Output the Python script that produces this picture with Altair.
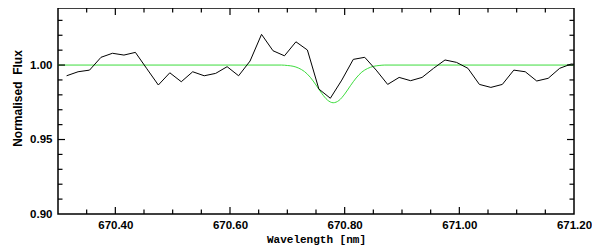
import altair as alt
import pandas as pd

wavelength = [670.315, 670.335, 670.355, 670.375, 670.395, 670.415, 670.435, 670.455,
              670.475, 670.495, 670.515, 670.535, 670.555, 670.575, 670.595, 670.615,
              670.635, 670.655, 670.675, 670.695, 670.715, 670.735, 670.755, 670.775,
              670.795, 670.815, 670.835, 670.855, 670.875, 670.895, 670.915, 670.935,
              670.955, 670.975, 670.995, 671.015, 671.035, 671.055, 671.075, 671.095,
              671.115, 671.135, 671.155, 671.175, 671.195, 671.215]
flux = [0.9928, 0.9955, 0.9966, 1.0052, 1.0079, 1.0067, 1.0085, 0.9975,
        0.9866, 0.9948, 0.9888, 0.9955, 0.9928, 0.9944, 0.9989, 0.9928,
        1.0027, 1.0206, 1.0096, 1.0062, 1.0156, 1.0101, 0.9839, 0.9777,
        0.9899, 1.0038, 1.0052, 0.9966, 0.9870, 0.9917, 0.9895, 0.9917,
        0.9978, 1.0034, 1.0018, 0.9978, 0.9870, 0.9850, 0.9870, 0.9966,
        0.9955, 0.9893, 0.9911, 0.9978, 1.0007, 1.0000]

# Fitted line profile
fit_wavelength = [670.30, 670.69, 670.70, 670.71, 670.72, 670.73, 670.74, 670.75, 670.76,
                  670.77, 670.78, 670.79, 670.80, 670.81, 670.82, 670.83, 670.84,
                  670.85, 670.86, 670.87, 671.20]
fit_flux = [1.0000, 1.0000, 0.9997, 0.9992, 0.9979, 0.9956, 0.9918, 0.9866, 0.9810,
            0.9765, 0.9747, 0.9762, 0.9805, 0.9861, 0.9913, 0.9953, 0.9977,
            0.9991, 0.9997, 1.0000, 1.0000]

x_label_values = [670.40, 670.60, 670.80, 671.00, 671.20]
y_label_values = [0.90, 0.95, 1.00]
x_major_ticks = [670.40, 670.60, 670.80, 671.00]
x_minor_ticks = [670.35, 670.45, 670.50, 670.55, 670.65, 670.70, 670.75,
                 670.85, 670.90, 670.95, 671.05, 671.10, 671.15]
y_major_ticks = [0.95, 1.00]
y_minor_ticks = [0.91, 0.92, 0.93, 0.94, 0.96, 0.97, 0.98, 0.99, 1.01, 1.02, 1.03]

W, H = 516, 206
MAJ, MIN = 7, 4.5

xs = alt.Scale(domain=[670.30, 671.20], nice=False, zero=False)
ys = alt.Scale(domain=[0.90, 1.0383], nice=False, zero=False)

x_axis = alt.Axis(values=x_label_values, format=".2f", title="Wavelength [nm]",
                  grid=False, ticks=False, tickSize=0, domain=False,
                  labelFont="Liberation Sans", labelFontWeight="bold", labelFontSize=11.5,
                  labelColor="black", labelPadding=5, labelBaseline="top",
                  labelFlush=False, labelOverlap=False,
                  titleFont="Liberation Mono", titleFontWeight="bold", titleFontSize=11,
                  titleColor="black", titleX=W / 2, titleY=28,
                  titleBaseline="alphabetic", titleAlign="center")
y_axis = alt.Axis(values=y_label_values, format=".2f", title="Normalised\u00a0\u00a0Flux",
                  grid=False, ticks=False, tickSize=0, domain=False,
                  labelFont="Liberation Sans", labelFontWeight="bold", labelFontSize=11.5,
                  labelColor="black", labelPadding=6, labelFlush=False, labelOverlap=False,
                  titleFont="Liberation Sans", titleFontWeight="bold", titleFontSize=12,
                  titleColor="black", titleX=-41, titleY=90, titleAngle=270,
                  titleAlign="center", titleBaseline="middle")

obs = pd.DataFrame({"wl": wavelength, "flux": flux})
fit = pd.DataFrame({"wl": fit_wavelength, "flux": fit_flux})

fit_line = alt.Chart(fit).mark_line(color="#3ddc3d", strokeWidth=1, interpolate="monotone",
                                    clip=True).encode(
    x=alt.X("wl:Q", scale=xs, axis=x_axis),
    y=alt.Y("flux:Q", scale=ys, axis=y_axis),
)
obs_line = alt.Chart(obs).mark_line(color="black", strokeWidth=1, clip=True).encode(
    x=alt.X("wl:Q", scale=xs, axis=x_axis),
    y=alt.Y("flux:Q", scale=ys, axis=y_axis),
)


def xticks(vals, length):
    d = pd.DataFrame({"v": vals})
    bottom = alt.Chart(d).mark_rule(color="black", strokeWidth=1.2).encode(
        x=alt.X("v:Q", scale=xs, axis=x_axis), y=alt.value(H), y2=alt.value(H - length))
    top = alt.Chart(d).mark_rule(color="black", strokeWidth=1.2).encode(
        x=alt.X("v:Q", scale=xs, axis=x_axis), y=alt.value(0), y2=alt.value(length))
    return [bottom, top]


def yticks(vals, length):
    d = pd.DataFrame({"v": vals})
    left = alt.Chart(d).mark_rule(color="black", strokeWidth=1.2).encode(
        y=alt.Y("v:Q", scale=ys, axis=y_axis), x=alt.value(0), x2=alt.value(length))
    right = alt.Chart(d).mark_rule(color="black", strokeWidth=1.2).encode(
        y=alt.Y("v:Q", scale=ys, axis=y_axis), x=alt.value(W), x2=alt.value(W - length))
    return [left, right]


layers = [fit_line, obs_line]
layers += xticks(x_major_ticks, MAJ) + xticks(x_minor_ticks, MIN)
layers += yticks(y_major_ticks, MAJ) + yticks(y_minor_ticks, MIN)

chart = alt.layer(*layers).properties(
    width=W, height=H, autosize="none",
    padding={"left": 50, "top": 0, "right": 18, "bottom": 31},
    background="white",
).configure_view(stroke="black", strokeWidth=1.5)

chart.save("out.html", embed_options={"renderer": "svg", "actions": False})
